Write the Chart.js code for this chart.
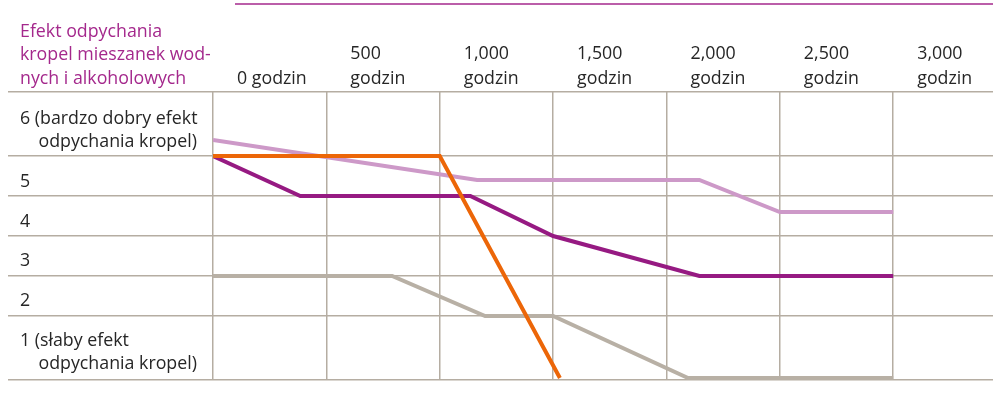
<!DOCTYPE html>
<html><head><meta charset="utf-8">
<script src="https://cdn.jsdelivr.net/npm/chart.js@4"></script>
<style>html,body{margin:0;padding:0;background:#fff;}</style>
</head><body>
<canvas id="c" width="993" height="419"></canvas>
<script>
// ---- data ----
const titleLines = ['Efekt odpychania', 'kropel mieszanek wod-', 'nych i alkoholowych'];
const xTickValues = [0, 500, 1000, 1500, 2000, 2500, 3000];
const xTickLabels = [['0 godzin'], ['500', 'godzin'], ['1,000', 'godzin'], ['1,500', 'godzin'], ['2,000', 'godzin'], ['2,500', 'godzin'], ['3,000', 'godzin']];
const yGridValues = [0, 1.6, 2.6, 3.6, 4.6, 5.6, 7.2];
const yLabelValues = [0.69, 1.97, 2.97, 3.95, 4.95, 6.24];
const NB = '\u00A0\u00A0\u00A0\u00A0';
const yLabels = [['1 (słaby efekt', NB + 'odpychania kropel)'], '2', '3', '4', '5', ['6 (bardzo dobry efekt', NB + 'odpychania kropel)']];

const orangeHours = [0, 1000, 1530];
const orangeScore = [5.6, 5.6, 0.05];
const magentaHours = [0, 385, 1135, 1500, 2145, 3000];
const magentaScore = [5.6, 4.6, 4.6, 3.6, 2.6, 2.6];
const pinkHours = [0, 1165, 2145, 2500, 3000];
const pinkScore = [6.0, 5.0, 5.0, 4.2, 4.2];
const grayHours = [0, 790, 1200, 1500, 2095, 3000];
const grayScore = [2.6, 2.6, 1.6, 1.6, 0.05, 0.05];

// ---- styles ----
const GRID = '#b5ada2';
const TEXT = '#262626';
const MAG_TEXT = '#a4288c';
const FONT = '"Open Sans", sans-serif';
const FS = 17.8;
const pts = (xs, ys) => xs.map((x, i) => ({x: x, y: ys[i]}));
const lineDs = (data, color, order) => ({
  data, borderColor: color, borderWidth: 4, pointRadius: 0, tension: 0,
  fill: false, borderJoinStyle: 'miter', borderCapStyle: 'butt', order
});

const decor = {
  id: 'decor',
  afterDraw(chart) {
    const ctx = chart.ctx;
    ctx.save();
    ctx.strokeStyle = MAG_TEXT;
    ctx.lineWidth = 1.5;
    ctx.beginPath(); ctx.moveTo(235, 4); ctx.lineTo(993, 4); ctx.stroke();
    ctx.fillStyle = MAG_TEXT;
    ctx.font = FS + 'px ' + FONT;
    ctx.textAlign = 'left';
    ctx.textBaseline = 'alphabetic';
    titleLines.forEach((t, i) => ctx.fillText(t, 20, 37 + i * 23.3));
    ctx.restore();
  }
};

new Chart(document.getElementById('c'), {
  type: 'line',
  data: {
    datasets: [
      lineDs(pts(orangeHours, orangeScore), '#ec6608', 0),
      lineDs(pts(magentaHours, magentaScore), '#961a82', 1),
      lineDs(pts(pinkHours, pinkScore), '#cd99c8', 2),
      lineDs(pts(grayHours, grayScore), '#b8b0a5', 3)
    ]
  },
  options: {
    responsive: false,
    animation: false,
    devicePixelRatio: 1,
    layout: {padding: {left: 20, right: 0, top: 0, bottom: 39}},
    plugins: {legend: {display: false}, tooltip: {enabled: false}, title: {display: false}},
    scales: {
      x: {
        type: 'linear', position: 'top', min: 0, max: 3440,
        afterBuildTicks: s => { s.ticks = xTickValues.map(v => ({value: v})); },
        afterFit: s => { s.height = 92; },
        grid: {color: GRID, lineWidth: 1.5, drawTicks: false},
        border: {display: false},
        ticks: {
          autoSkip: false, maxRotation: 0, align: 'start', labelOffset: 24, padding: 1,
          color: TEXT, font: {family: FONT, size: FS, lineHeight: 1.4},
          callback: v => { const i = xTickValues.indexOf(v); return i >= 0 ? xTickLabels[i] : ''; }
        }
      },
      y: {
        type: 'linear', min: 0, max: 7.2,
        afterBuildTicks: s => {
          s.ticks = yGridValues.concat(yLabelValues).sort((a, b) => a - b).map(v => ({value: v}));
        },
        afterFit: s => { s.width = 193; },
        grid: {
          lineWidth: 1.5, tickLength: 205,
          color: c => (c.tick && yGridValues.includes(c.tick.value)) ? GRID : 'rgba(0,0,0,0)'
        },
        border: {display: false},
        ticks: {
          autoSkip: false, crossAlign: 'far', color: TEXT,
          font: {family: FONT, size: FS, lineHeight: 1.3},
          callback: v => { const i = yLabelValues.indexOf(v); return i >= 0 ? yLabels[i] : ''; }
        }
      }
    }
  },
  plugins: [decor]
});
</script>
</body></html>
